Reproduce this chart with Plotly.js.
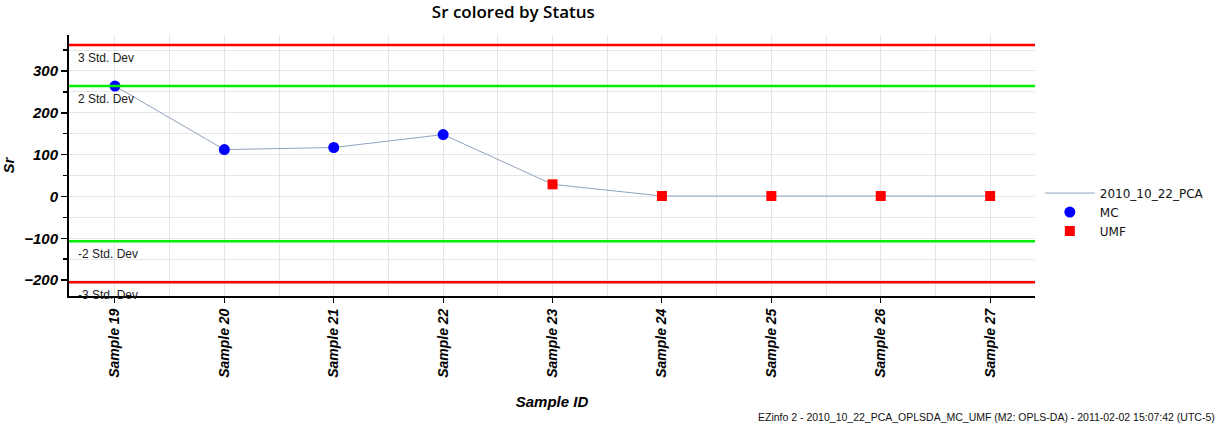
<!DOCTYPE html>
<html><head><meta charset="utf-8">
<script src="https://cdn.plot.ly/plotly-3.0.1.min.js"></script>
<style>html,body{margin:0;padding:0;background:#fff;}#chart{width:1231px;height:428px;}</style>
</head><body><div id="chart"></div>
<script>
const categories = ["Sample 19","Sample 20","Sample 21","Sample 22","Sample 23","Sample 24","Sample 25","Sample 26","Sample 27"];
const srValues = [264, 112, 117, 148, 29, 1, 1, 1, 1];
const status = ["MC","MC","MC","MC","UMF","UMF","UMF","UMF","UMF"];
const limitValues = [362, 264, -107, -205];
const limitLabels = ["3 Std. Dev","2 Std. Dev","-2 Std. Dev","-3 Std. Dev"];
const limitColors = ["#ff0000","#00ee00","#00ee00","#ff0000"];
const yTicks = [-200,-100,0,100,200,300];

const xIdx = categories.map((_, i) => i);
const pick = s => ({
  x: xIdx.filter(i => status[i] === s),
  y: xIdx.filter(i => status[i] === s).map(i => srValues[i])
});
const mc = pick("MC"), umf = pick("UMF");

const traces = [
  {x: xIdx, y: srValues, mode: 'lines', name: '2010_10_22_PCA', line: {color: '#8fa3bd', width: 1}, hoverinfo: 'skip'},
  {x: mc.x, y: mc.y, mode: 'markers', name: 'MC', marker: {color: '#0000ff', size: 11, symbol: 'circle'}},
  {x: umf.x, y: umf.y, mode: 'markers', name: 'UMF', marker: {color: '#ff0000', size: 10, symbol: 'square'}}
];

const shapes = limitValues.map((v, i) => ({
  type: 'line', xref: 'paper', x0: 0, x1: 1, yref: 'y', y0: v, y1: v,
  line: {color: limitColors[i], width: 2.5}, layer: 'above'
}));
const annotations = limitValues.map((v, i) => ({
  xref: 'paper', x: 0.007, xanchor: 'left', yref: 'y', y: v, yanchor: 'top', yshift: -4,
  text: limitLabels[i], showarrow: false, font: {family: 'Arial, Liberation Sans', size: 12, color: '#222'}
}));
annotations.push({
  xref: 'paper', yref: 'paper', x: 1.188, y: -0.495, xanchor: 'right', yanchor: 'bottom',
  text: 'EZinfo 2 - 2010_10_22_PCA_OPLSDA_MC_UMF (M2: OPLS-DA) - 2011-02-02 15:07:42 (UTC-5)',
  showarrow: false, font: {family: 'Arial, Liberation Sans', size: 10.5, color: '#111'}
});

const layout = {
  width: 1231, height: 428,
  margin: {l: 69, r: 196, t: 35, b: 132},
  paper_bgcolor: '#fff', plot_bgcolor: '#fff',
  title: {text: 'Sr colored by Status', x: 0.417, xanchor: 'center', y: 0.985, yanchor: 'top',
          font: {family: 'Open Sans, Noto Sans', size: 17, color: '#000', weight: 600}},
  showlegend: true,
  legend: {x: 1.005, y: 0.45, xanchor: 'left', yanchor: 'top', font: {family: 'DejaVu Sans', size: 12, color: '#111'},
           tracegroupgap: 0, itemwidth: 50, bgcolor: 'rgba(0,0,0,0)'},
  xaxis: {
    range: [-0.42, 8.41], tickmode: 'array', tickvals: xIdx, ticktext: categories,
    tickangle: -90, ticks: 'outside', ticklen: 5, tickcolor: '#000',
    showgrid: true, gridcolor: '#e6e6e6', zeroline: false,
    showline: true, linecolor: '#000', linewidth: 2,
    minor: {dtick: 0.5, tick0: 0, showgrid: true, gridcolor: '#e6e6e6', ticks: ''},
    tickfont: {family: 'Liberation Sans, Arial', size: 14, color: '#000', weight: 'bold', style: 'italic'},
    title: {text: 'Sample ID', standoff: 20, font: {family: 'Liberation Sans, Arial', size: 15, color: '#000', weight: 'bold', style: 'italic'}},
    fixedrange: true
  },
  yaxis: {
    range: [-238, 386], tickmode: 'array', tickvals: yTicks,
    ticks: 'outside', ticklen: 6, tickcolor: '#000', tickwidth: 1.5,
    showgrid: true, gridcolor: '#e6e6e6', zeroline: false,
    showline: true, linecolor: '#000', linewidth: 2,
    minor: {dtick: 50, tick0: 0, ticks: 'outside', ticklen: 4, tickcolor: '#000', showgrid: true, gridcolor: '#e6e6e6'},
    tickfont: {family: 'Liberation Sans, Arial', size: 15, color: '#000', weight: 'bold', style: 'italic'},
    title: {text: 'Sr', standoff: 10, font: {family: 'Liberation Sans, Arial', size: 15, color: '#000', weight: 'bold', style: 'italic'}},
    fixedrange: true
  },
  shapes: shapes,
  annotations: annotations
};
Plotly.newPlot('chart', traces, layout, {displayModeBar: false, staticPlot: true});
</script></body></html>
